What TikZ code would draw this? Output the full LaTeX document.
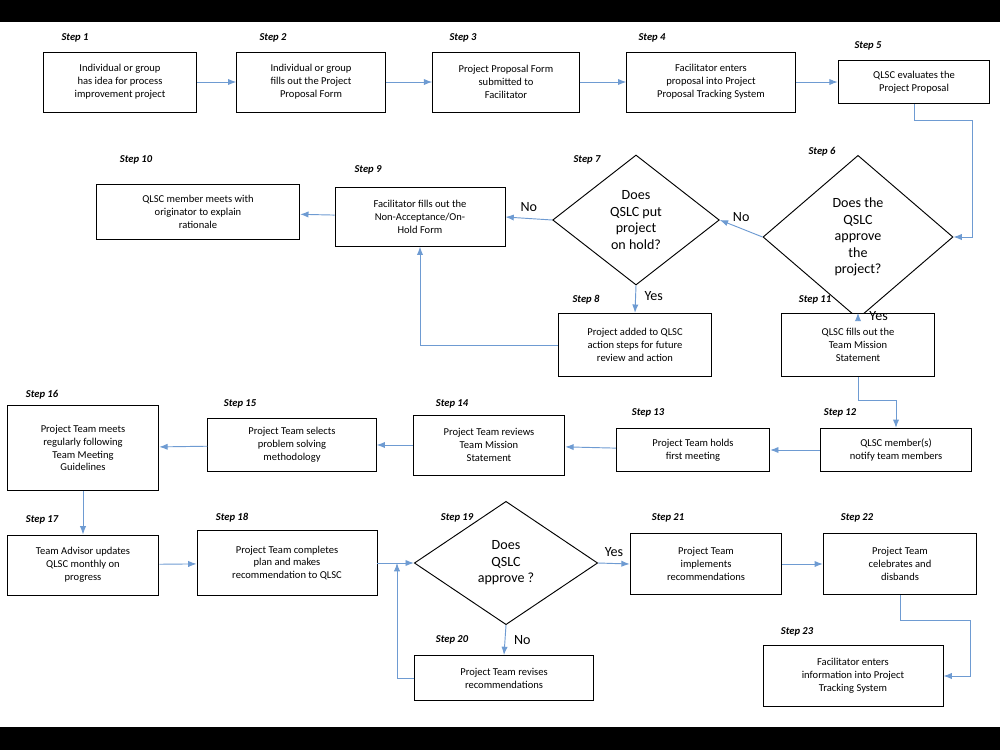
\documentclass[tikz,border=0pt]{standalone}
\usepackage{fontspec}
\setmainfont{Carlito}
\usetikzlibrary{shapes.geometric,arrows.meta}
\begin{document}
\begin{tikzpicture}[x=0.03cm,y=-0.03cm]
    \tikzstyle{step box}=[
        draw = black,
        thick,
        fill = white,
        align = center,
        font = \small,
        inner sep = 1pt
    ]
    \tikzstyle{step test}=[
        draw = black,
        thick,
        diamond,
        aspect = 1.2,
        align = center,
        font = \large,
        inner sep = 0pt
    ]
    \tikzstyle{step label}=[font = \small\bfseries\itshape]
    \tikzstyle{link}=[draw = {rgb,255:red,110;green,155;blue,210}, thick, -{Latex[length=2.5mm]}]

    \fill[black] (0,0) rectangle (1000,22);
    \fill[black] (0,727) rectangle (1000,750);
    \useasboundingbox (0,0) rectangle (1000,750);

	\node[step box, minimum width=4.6cm, minimum height=1.8cm] (s1) at (120,82)  {Individual or group\\has idea for process\\improvement project};
	\node[step box, minimum width=4.45cm, minimum height=1.8cm] (s2) at (311,82) {Individual or group\\fills out the Project\\Proposal Form};
	\node[step box, minimum width=4.4cm, minimum height=1.8cm] (s3) at (506,82)  {Project Proposal Form\\submitted to\\Facilitator};
	\node[step box, minimum width=5.05cm, minimum height=1.8cm] (s4) at (711,82) {Facilitator enters\\proposal into Project\\Proposal Tracking System};
	\node[step box, minimum width=4.55cm, minimum height=1.3cm] (s5) at (914,82) {QLSC evaluates the\\Project Proposal};
	\node[step test, minimum width=5.7cm, minimum height=4.9cm] (s6) at (858,237) {Does the\\QSLC\\approve\\the\\project?};
	\node[step test, minimum width=5cm, minimum height=3.9cm] (s7) at (636,220) {Does\\QSLC put\\project\\on hold?};
	\node[step box, minimum width=5.1cm, minimum height=1.75cm] (s9) at (420,217) {Facilitator fills out the\\Non-Acceptance/On-\\Hold Form};
	\node[step box, minimum width=6.1cm, minimum height=1.65cm] (s10) at (198,212) {QLSC member meets with\\originator to explain\\rationale};
	\node[step box, minimum width=4.6cm, minimum height=1.9cm] (s8) at (635,345) {Project added to QLSC\\action steps for future\\review and action};
	\node[step box, minimum width=4.6cm, minimum height=1.9cm] (s11) at (858,345) {QLSC fills out the\\Team Mission\\Statement};
	\node[step box, minimum width=4.55cm, minimum height=1.3cm] (s12) at (896,450) {QLSC  member(s)\\notify team members};
	\node[step box, minimum width=4.6cm, minimum height=1.3cm] (s13) at (693,450) {Project Team holds\\first meeting};
	\node[step box, minimum width=4.55cm, minimum height=1.8cm] (s14) at (489,445) {Project Team reviews\\Team Mission\\Statement};
	\node[step box, minimum width=5.05cm, minimum height=1.6cm] (s15) at (292,445) {Project Team selects\\problem solving\\methodology};
	\node[step box, minimum width=4.55cm, minimum height=2.55cm] (s16) at (83,448) {Project Team meets\\regularly following\\Team Meeting\\Guidelines};
	\node[step box, minimum width=4.55cm, minimum height=1.8cm] (s17) at (83,565) {Team Advisor updates\\QLSC monthly on\\progress};
	\node[step box, minimum width=5.4cm, minimum height=1.95cm] (s18) at (287,563) {Project Team completes\\plan and makes\\recommendation to QLSC};
	\node[step test, minimum width=5.5cm, minimum height=3.7cm] (s19) at (506,563) {Does\\QSLC\\approve ?};
	\node[step box, minimum width=5.35cm, minimum height=1.35cm] (s20) at (504,678) {Project Team revises\\recommendations};
	\node[step box, minimum width=4.55cm, minimum height=1.85cm] (s21) at (706,564) {Project Team\\implements\\recommendations};
	\node[step box, minimum width=4.6cm, minimum height=1.85cm] (s22) at (900,564) {Project Team\\celebrates and\\disbands};
	\node[step box, minimum width=5.4cm, minimum height=1.85cm] (s23) at (853,676) {Facilitator  enters\\information into Project\\Tracking System};

	\node[step label] (l1)  at (75,38)   {Step 1};
	\node[step label] (l2)  at (273,38)  {Step 2};
	\node[step label] (l3)  at (463,38)  {Step 3};
	\node[step label] (l4)  at (652,38)  {Step 4};
	\node[step label] (l5)  at (868,46)  {Step 5};
	\node[step label] (l6)  at (822,152) {Step 6};
	\node[step label] (l7)  at (587,160) {Step 7};
	\node[step label] (l8)  at (586,300) {Step 8};
	\node[step label] (l9)  at (368,170) {Step 9};
	\node[step label] (l10) at (136,160) {Step 10};
	\node[step label] (l11) at (815,300) {Step 11};
	\node[step label] (l12) at (840,413) {Step 12};
	\node[step label] (l13) at (648,413) {Step 13};
	\node[step label] (l14) at (452,404) {Step 14};
	\node[step label] (l15) at (240,404) {Step 15};
	\node[step label] (l16) at (42,395)  {Step 16};
	\node[step label] (l17) at (42,520)  {Step 17};
	\node[step label] (l18) at (232,518) {Step 18};
	\node[step label] (l19) at (457,518) {Step 19};
	\node[step label] (l20) at (452,640) {Step 20};
	\node[step label] (l21) at (668,518) {Step 21};
	\node[step label] (l22) at (857,518) {Step 22};
	\node[step label] (l23) at (797,632) {Step 23};

	\coordinate (m20) at (397,563);

	\path[link] (s1) -- (s2);
	\path[link] (s2) -- (s3);
	\path[link] (s3) -- (s4);
	\path[link] (s4) -- (s5);
	\path[link] (s5.south) |- (972,120) |- (s6.east);
	\path[link] (s6.west) -- node[above, black, font=\large, yshift=2pt]{No} (s7.east);
	\path[link] (s7.west) -- node[above, black, font=\large, yshift=2pt]{No} (s9.east);
	\path[link] (s9) -- (s10);
	\path[link] (s7.south) -- node[right, black, font=\large, xshift=4pt, yshift=3pt]{Yes} (s8.north);
	\path[link] (s8.west) -| (s9.south);
	\path[link] (s6.south) -- node[right, black, font=\large, xshift=6pt]{Yes} (s11.north);
	\path[link] (s11.south) |- (896,400) -- (s12.north);
	\path[link] (s12) -- (s13);
	\path[link] (s13) -- (s14);
	\path[link] (s14) -- (s15);
	\path[link] (s15) -- (s16);
	\path[link] (s16) -- (s17);
	\path[link] (s17) -- (s18);
	\path[link] (s18) -- (s19);
	\path[link] (s19.east) -- node[above, black, font=\large, yshift=2pt]{Yes} (s21.west);
	\path[link] (s19.south) -- node[right, black, font=\large, xshift=4pt]{No} (s20.north);
	\path[link] (s20.west) -| (m20);
	\path[link] (s21) -- (s22);
	\path[link] (s22.south) |- (970,620) |- (s23.east);

	\end{tikzpicture}
\end{document}
